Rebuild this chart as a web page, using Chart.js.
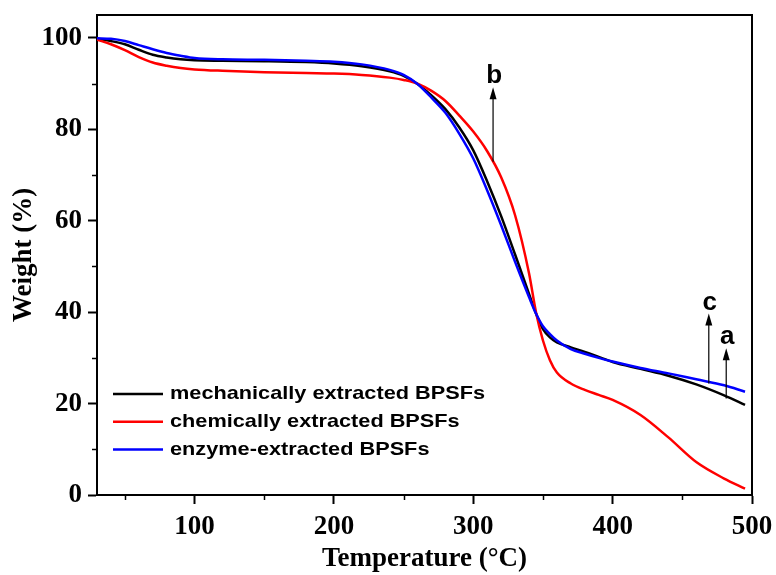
<!DOCTYPE html>
<html><head><meta charset="utf-8">
<script src="https://cdn.jsdelivr.net/npm/chart.js@4.4.1/dist/chart.umd.min.js"></script>
<style>html,body{margin:0;padding:0;background:#fff;}#wrap{width:776px;height:575px;}</style>
</head><body><div id="wrap"><canvas id="c" width="776" height="575"></canvas></div>
<script>
// ---- data ----
const temperatures = [30,40,50,60,70,80,90,100,120,150,180,200,220,240,250,260,270,280,290,300,310,320,330,340,345,350,355,360,370,380,390,400,420,440,460,480,495];
const mechanicalWeight = [99.8,99.3,98.6,97.4,96.3,95.7,95.3,95.1,95.0,94.9,94.7,94.4,93.8,92.7,91.7,89.9,87.4,84.4,80.4,75.4,68.6,61.0,52.6,44.0,39.7,36.3,34.5,33.4,32.3,31.3,30.2,29.1,27.6,26.1,24.2,21.8,19.7];
const chemicalWeight   = [99.6,98.6,97.3,95.8,94.6,93.9,93.4,93.1,92.8,92.5,92.3,92.2,91.9,91.3,90.8,90.0,88.4,86.2,83.0,79.5,75.2,69.5,61.2,48.5,40.0,33.8,29.5,26.8,24.4,23.0,21.9,20.8,17.5,12.6,7.2,3.6,1.4];
const enzymeWeight     = [99.9,99.8,99.3,98.4,97.5,96.7,96.1,95.6,95.3,95.2,95.0,94.8,94.2,93.0,91.9,89.9,86.9,83.6,79.0,73.6,66.6,59.0,51.0,43.3,39.7,36.9,35.2,33.8,31.9,30.9,30.0,29.2,27.8,26.6,25.3,24.0,22.6];
const seriesLabels = ['mechanically extracted BPSFs','chemically extracted BPSFs','enzyme-extracted BPSFs'];
const seriesColors = ['#000000','#ff0000','#0000ff'];
const xTickValues = [100,200,300,400,500];
const yTickValues = [0,20,40,60,80,100];
const xMinorTicks = [50,150,250,350,450];
const yMinorTicks = [10,30,50,70,90];
const arrowLabels = ['b','c','a'];
const arrowX      = [314.2,469.0,481.5];
const arrowFromY  = [72.9,24.4,21.1];
const arrowToY    = [89.2,39.7,32.1];

function pts(ys){ return temperatures.map((t,i)=>({x:t,y:ys[i]})); }

const SERIF = '"Liberation Serif","Times New Roman",serif';
const SANS = '"Liberation Sans",Arial,sans-serif';

const framePlugin = {
  id:'frame',
  afterDraw(chart){
    const {ctx, chartArea:a, scales:{x,y}} = chart;
    ctx.save();
    ctx.strokeStyle='#000'; ctx.lineWidth=2;
    ctx.beginPath();
    ctx.moveTo(a.left,a.top); ctx.lineTo(a.right,a.top); ctx.lineTo(a.right,a.bottom);
    ctx.stroke();
    ctx.lineWidth=1.5;
    xMinorTicks.forEach(v=>{const px=Math.round(x.getPixelForValue(v))+0.5;ctx.beginPath();ctx.moveTo(px,a.bottom);ctx.lineTo(px,a.bottom+5);ctx.stroke();});
    yMinorTicks.forEach(v=>{const py=Math.round(y.getPixelForValue(v))+0.5;ctx.beginPath();ctx.moveTo(a.left,py);ctx.lineTo(a.left-5,py);ctx.stroke();});
    ctx.restore();
  }
};

const legendPlugin = {
  id:'insideLegend',
  afterDatasetsDraw(chart){
    const ctx = chart.ctx;
    ctx.save();
    ctx.font = 'bold 19px '+SANS;
    ctx.textBaseline='middle';
    const sx = 315/ctx.measureText(seriesLabels[0]).width;
    seriesLabels.forEach((lab,i)=>{
      const yy = 394 + i*27.8;
      ctx.strokeStyle = seriesColors[i]; ctx.lineWidth=2.5;
      ctx.beginPath(); ctx.moveTo(113,yy); ctx.lineTo(163,yy); ctx.stroke();
      ctx.save(); ctx.translate(170,yy); ctx.scale(sx,1);
      ctx.fillStyle='#000'; ctx.fillText(lab,0,0); ctx.restore();
    });
    // arrows
    const {x,y} = chart.scales;
    ctx.strokeStyle='#000'; ctx.fillStyle='#000'; ctx.lineWidth=1.2;
    ctx.font='bold 26px '+SANS; ctx.textAlign='center'; ctx.textBaseline='alphabetic';
    arrowLabels.forEach((lab,i)=>{
      const px = x.getPixelForValue(arrowX[i]);
      const y0 = y.getPixelForValue(arrowFromY[i]);
      const y1 = y.getPixelForValue(arrowToY[i]);
      ctx.beginPath(); ctx.moveTo(px,y0); ctx.lineTo(px,y1+10); ctx.stroke();
      ctx.beginPath(); ctx.moveTo(px,y1); ctx.lineTo(px-3.5,y1+12); ctx.lineTo(px+3.5,y1+12); ctx.closePath(); ctx.fill();
      ctx.fillText(lab, px+1, y1-4);
    });
    ctx.restore();
  }
};

const ds = (i,ys,order)=>({label:seriesLabels[i],data:pts(ys),borderColor:seriesColors[i],backgroundColor:seriesColors[i],borderWidth:2.5,pointRadius:0,cubicInterpolationMode:'monotone',fill:false,order});

new Chart(document.getElementById('c'),{
  type:'line',
  data:{datasets:[ds(0,mechanicalWeight,2),ds(1,chemicalWeight,1),ds(2,enzymeWeight,0)]},
  options:{
    responsive:false, animation:false, devicePixelRatio:1,
    layout:{padding:{left:0,right:24,top:15,bottom:0}},
    plugins:{legend:{display:false},tooltip:{enabled:false}},
    scales:{
      x:{type:'linear',min:30,max:500,
        afterFit(s){s.height=80;s.paddingLeft=0;s.paddingRight=0;},
        afterBuildTicks(s){s.ticks=xTickValues.map(v=>({value:v}));},
        border:{display:true,color:'#000',width:2},
        grid:{drawOnChartArea:false,drawTicks:true,tickLength:9,tickWidth:2,color:'#000'},
        ticks:{color:'#000',padding:7,maxRotation:0,autoSkip:false,font:{family:SERIF,size:27,weight:'bold'}},
        title:{display:true,text:'Temperature (°C)',color:'#000',padding:{top:0,bottom:0},font:{family:SERIF,size:27,weight:'bold',lineHeight:1.2}}
      },
      y:{type:'linear',min:0,max:105,
        afterFit(s){s.width=97;s.paddingTop=0;s.paddingBottom=0;},
        afterBuildTicks(s){s.ticks=yTickValues.map(v=>({value:v}));},
        border:{display:true,color:'#000',width:2},
        grid:{drawOnChartArea:false,drawTicks:true,tickLength:9,tickWidth:2,color:'#000'},
        ticks:{color:'#000',padding:6,autoSkip:false,font:{family:SERIF,size:27,weight:'bold'}},
        title:{display:true,text:'Weight (%)',color:'#000',padding:{top:8,bottom:0},font:{family:SERIF,size:27,weight:'bold',lineHeight:1.2}}
      }
    }
  },
  plugins:[framePlugin,legendPlugin]
});
</script></body></html>
